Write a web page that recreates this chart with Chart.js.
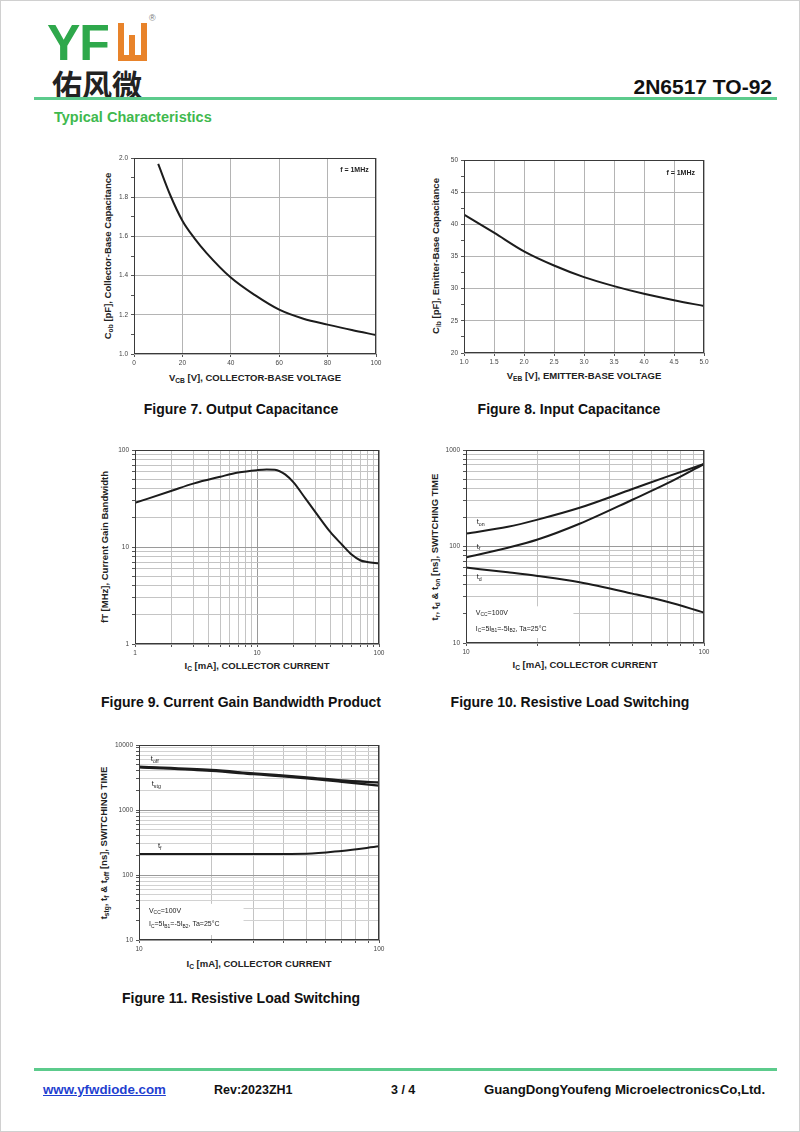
<!DOCTYPE html>
<html>
<head>
<meta charset="utf-8">
<script src="https://cdn.jsdelivr.net/npm/chart.js@4.4.1/dist/chart.umd.min.js"></script>
<style>
  html, body { margin: 0; padding: 0; background: #fff; }
  #page { position: relative; width: 798px; height: 1130px; border: 1px solid #d0d0d0; overflow: hidden;
          font-family: "Liberation Sans", Arial, sans-serif; }
  .abs { position: absolute; white-space: nowrap; }
  .cap { font-weight: bold; font-size: 14px; color: #111; transform: translateX(-50%); }
  .xt { font-weight: bold; font-size: 9.5px; color: #222; transform: translateX(-50%); }
  .yt { font-weight: bold; font-size: 9.5px; color: #222; transform: translate(-50%, -50%) rotate(-90deg); }
  sub { font-size: 70%; vertical-align: -2px; line-height: 0; }
  canvas { position: absolute; }
</style>
</head>
<body>
<div id="page">
  <!-- header -->
  <div class="abs" style="left:46px;top:13px;font:bold 50px 'Liberation Sans';color:#2ea84b;letter-spacing:-1px">YF</div>
  <div class="abs" style="left:117px;top:22px;width:17px;height:32px;border:6px solid #e8832a;border-top:none"></div>
  <div class="abs" style="left:128px;top:34px;width:6px;height:20px;background:#e8832a"></div>
  <div class="abs" style="left:148px;top:12px;font-size:9px;color:#777">®</div>
  <div class="abs" style="left:51px;top:60px;font:bold 30px 'Noto Sans CJK SC';color:#222">佑风微</div>
  <div class="abs" style="right:27px;top:74px;font-weight:bold;font-size:21px;color:#111">2N6517 TO-92</div>
  <div class="abs" style="left:33px;top:96px;width:743px;height:3px;background:#5ccb8c"></div>
  <div class="abs" style="left:53px;top:108px;font-weight:bold;font-size:14.5px;color:#3fb94e">Typical Characteristics</div>

  <!-- axis titles -->
  <div class="abs xt" style="left:254px;top:371px">V<sub>CB</sub> [V], COLLECTOR-BASE VOLTAGE</div>
  <div class="abs yt" style="left:106px;top:255px">C<sub>ob</sub> [pF], Collector-Base Capacitance</div>
  <div class="abs xt" style="left:583px;top:369px">V<sub>EB</sub> [V], EMITTER-BASE VOLTAGE</div>
  <div class="abs yt" style="left:434px;top:255px">C<sub>ib</sub> [pF], Emitter-Base Capacitance</div>
  <div class="abs xt" style="left:256px;top:659px">I<sub>C</sub> [mA], COLLECTOR CURRENT</div>
  <div class="abs yt" style="left:103px;top:546px">fT [MHz], Current Gain Bandwidth</div>
  <div class="abs xt" style="left:584px;top:658px">I<sub>C</sub> [mA], COLLECTOR CURRENT</div>
  <div class="abs yt" style="left:433px;top:546px">t<sub>r</sub>, t<sub>d</sub> &amp; t<sub>on</sub> [ns], SWITCHING TIME</div>
  <div class="abs xt" style="left:258px;top:957px">I<sub>C</sub> [mA], COLLECTOR CURRENT</div>
  <div class="abs yt" style="left:102px;top:842px">t<sub>stg</sub>, t<sub>f</sub> &amp; t<sub>off</sub> [ns], SWITCHING TIME</div>

  <!-- captions -->
  <div class="abs cap" style="left:240px;top:400px">Figure 7. Output Capacitance</div>
  <div class="abs cap" style="left:568px;top:400px">Figure 8. Input Capacitance</div>
  <div class="abs cap" style="left:240px;top:693px">Figure 9. Current Gain Bandwidth Product</div>
  <div class="abs cap" style="left:569px;top:693px">Figure 10. Resistive Load Switching</div>
  <div class="abs cap" style="left:240px;top:989px">Figure 11. Resistive Load Switching</div>

  <!-- footer -->
  <div class="abs" style="left:33px;top:1067px;width:743px;height:3px;background:#5ccb8c"></div>
  <div class="abs" style="left:42px;top:1081px;font-weight:bold;font-size:13.3px;color:#1f3fd0;text-decoration:underline">www.yfwdiode.com</div>
  <div class="abs" style="left:213px;top:1082px;font-weight:bold;font-size:12.5px;color:#111">Rev:2023ZH1</div>
  <div class="abs" style="left:390px;top:1082px;font-weight:bold;font-size:12.5px;color:#111">3 / 4</div>
  <div class="abs" style="left:483px;top:1081px;font-weight:bold;font-size:13.2px;color:#111">GuangDongYoufeng MicroelectronicsCo,Ltd.</div>
</div>

<script>
// ---- Figure 7: output capacitance ----
const fig7Vcb = [10, 15, 20, 25, 30, 40, 50, 60, 70, 80, 90, 100];
const fig7Cob = [1.97, 1.81, 1.68, 1.59, 1.515, 1.39, 1.30, 1.226, 1.18, 1.15, 1.122, 1.097];
const fig7XTicks = [0, 20, 40, 60, 80, 100];
const fig7YTicks = [1.0, 1.2, 1.4, 1.6, 1.8, 2.0];

// ---- Figure 8: input capacitance ----
const fig8Veb = [1.0, 1.5, 2.0, 2.5, 3.0, 3.5, 4.0, 4.5, 5.0];
const fig8Cib = [41.5, 38.7, 35.8, 33.6, 31.8, 30.4, 29.2, 28.2, 27.3];
const fig8XTicks = [1.0, 1.5, 2.0, 2.5, 3.0, 3.5, 4.0, 4.5, 5.0];
const fig8YTicks = [20, 25, 30, 35, 40, 45, 50];

// ---- Figure 9: fT vs Ic ----
const fig9Ic = [1, 2, 3, 5, 7, 10, 12, 14, 17, 20, 25, 30, 40, 50, 60, 70, 80, 100];
const fig9Ft = [28.5, 38, 45, 53, 58.5, 62, 63, 62.5, 56, 46, 31.5, 23, 14.2, 10.5, 8.3, 7.3, 7.0, 6.8];

// ---- Figure 10: turn-on switching ----
const fig10Ic = [10, 15, 20, 30, 50, 70, 100];
const fig10Ton = [136, 160, 190, 252, 394, 530, 716];
const fig10Tr = [77, 97, 118, 172, 305, 450, 716];
const fig10Td = [60.5, 54, 49.5, 42.7, 32.5, 26.7, 20.7];

// ---- Figure 11: turn-off switching ----
const fig11Ic = [10, 20, 30, 50, 70, 100];
const fig11Toff = [4640, 4120, 3660, 3180, 2850, 2650];
const fig11Tstg = [4550, 4000, 3560, 3080, 2720, 2370];
const fig11Tf = [210, 210, 210, 212, 235, 276];

const ML = 42, MR = 12, MT = 10, MB = 18;
const CURVE = "#1c1c1c";

const isPow10 = (v) => Math.abs(Math.log10(v) - Math.round(Math.log10(v))) < 1e-6;
const logTicks = (min, max) => {
  const out = [];
  for (let d = min; d < max; d *= 10) for (let k = 1; k < 10; k++) out.push(d * k);
  out.push(max);
  return out;
};

// draw "t_{on}" style text with subscripts
function drawRich(ctx, x, y, text, size, bold) {
  const parts = text.split(/_\{([^}]*)\}/);
  const w = bold ? "bold " : "";
  const main = `${w}${size}px "Liberation Sans", Arial`;
  const small = `${w}${size * 0.7}px "Liberation Sans", Arial`;
  let cx = x;
  parts.forEach((p, i) => {
    ctx.font = i % 2 ? small : main;
    ctx.fillText(p, cx, i % 2 ? y + size * 0.3 : y);
    cx += ctx.measureText(p).width;
  });
}

const notesPlugin = {
  id: "notes",
  beforeDatasetsDraw(chart, args, opts) {
    if (!opts.box) return;
    const { ctx, scales: { x, y } } = chart;
    const b = opts.box;
    const x0 = x.getPixelForValue(b.x0), x1 = x.getPixelForValue(b.x1);
    const y0 = y.getPixelForValue(b.y0), y1 = y.getPixelForValue(b.y1);
    ctx.save();
    ctx.fillStyle = "#fff";
    ctx.fillRect(x0 + 1, y1, x1 - x0, y0 - y1 - 1);
    ctx.restore();
  },
  afterDatasetsDraw(chart, args, opts) {
    const { ctx, chartArea: a, scales: { x, y } } = chart;
    ctx.save();
    ctx.strokeStyle = "#3a3a3a";
    ctx.lineWidth = 1;
    ctx.strokeRect(Math.round(a.left) + 0.5, Math.round(a.top) + 0.5,
                   Math.round(a.width) - 1, Math.round(a.height) - 1);
    ctx.fillStyle = "#222";
    ctx.textBaseline = "middle";
    (opts.items || []).forEach((n) => {
      let px = x.getPixelForValue(n.x);
      const py = y.getPixelForValue(n.y);
      if (n.align === "right") {
        ctx.font = `${n.bold ? "bold " : ""}${n.size}px "Liberation Sans", Arial`;
        px -= ctx.measureText(n.text.replace(/_\{|\}/g, "")).width;
      }
      drawRich(ctx, px, py, n.text, n.size, n.bold);
    });
    ctx.restore();
  },
};

function axis(pos, o) {
  const isX = pos === "bottom";
  return {
    type: o.log ? "logarithmic" : "linear",
    position: pos,
    min: o.min,
    max: o.max,
    afterBuildTicks: (s) => { s.ticks = o.ticks.map((v) => ({ value: v })); },
    afterFit: (s) => { if (isX) s.height = MB; else s.width = ML; },
    border: { display: false },
    grid: {
      drawTicks: true,
      tickLength: 3,
      color: (c) => {
        const v = c.tick ? c.tick.value : null;
        if (v === null) return "transparent";
        return o.major(v) ? o.majorColor : o.minorColor;
      },
      tickColor: "#555",
      lineWidth: 1,
    },
    ticks: {
      autoSkip: false,
      maxRotation: 0,
      padding: isX ? 2 : 3,
      color: "#444",
      font: { size: 6.5, family: "Liberation Sans" },
      callback: (v) => (o.label(v) ? o.fmt(v) : ""),
    },
  };
}

function curve(data, width) {
  return {
    data,
    borderColor: CURVE,
    borderWidth: width || 2,
    pointRadius: 0,
    fill: false,
    cubicInterpolationMode: "monotone",
  };
}

function makeChart(rect, xs, datasets, xAxis, yAxis, notes) {
  const c = document.createElement("canvas");
  const w = rect.r - rect.l + ML + MR, h = rect.b - rect.t + MT + MB;
  c.width = w; c.height = h;
  c.style.left = rect.l - ML + "px";
  c.style.top = rect.t - MT + "px";
  c.style.width = w + "px";
  c.style.height = h + "px";
  document.getElementById("page").appendChild(c);
  return new Chart(c, {
    type: "line",
    data: { datasets: datasets.map((d) => ({ ...d, data: xs.map((x, i) => ({ x, y: d.data[i] })) })) },
    options: {
      responsive: false,
      animation: false,
      devicePixelRatio: 1,
      layout: { padding: { top: MT, right: MR, left: 0, bottom: 0 } },
      plugins: { legend: { display: false }, tooltip: { enabled: false }, notes },
      scales: { x: xAxis, y: yAxis },
    },
    plugins: [notesPlugin],
  });
}

const near = (arr) => (v) => arr.some((t) => Math.abs(t - v) < 1e-6);
const minorSteps = (lo, hi, step) => {
  const out = [];
  for (let i = 0; lo + i * step <= hi + 1e-9; i++) out.push(+(lo + i * step).toFixed(4));
  return out;
};

// Figure 7
makeChart({ l: 133, t: 157, r: 375, b: 353 }, fig7Vcb, [curve(fig7Cob)],
  axis("bottom", { min: 0, max: 100, ticks: fig7XTicks, major: () => true, label: () => true,
    fmt: (v) => String(v), majorColor: "#b4b4b4", minorColor: "transparent" }),
  axis("left", { min: 1.0, max: 2.0, ticks: minorSteps(1.0, 2.0, 0.1), major: near(fig7YTicks),
    label: near(fig7YTicks), fmt: (v) => v.toFixed(1), majorColor: "#b4b4b4", minorColor: "transparent" }),
  { items: [{ x: 97, y: 1.94, text: "f = 1MHz", size: 7, bold: true, align: "right" }] });

// Figure 8
makeChart({ l: 463, t: 159, r: 703, b: 352 }, fig8Veb, [curve(fig8Cib)],
  axis("bottom", { min: 1.0, max: 5.0, ticks: fig8XTicks, major: () => true, label: () => true,
    fmt: (v) => v.toFixed(1), majorColor: "#b4b4b4", minorColor: "transparent" }),
  axis("left", { min: 20, max: 50, ticks: minorSteps(20, 50, 2.5), major: near(fig8YTicks),
    label: near(fig8YTicks), fmt: (v) => String(v), majorColor: "#b4b4b4", minorColor: "transparent" }),
  { items: [{ x: 4.85, y: 48, text: "f = 1MHz", size: 7, bold: true, align: "right" }] });

// Figure 9
makeChart({ l: 134, t: 449, r: 378, b: 643 }, fig9Ic, [curve(fig9Ft)],
  axis("bottom", { log: true, min: 1, max: 100, ticks: logTicks(1, 100), major: isPow10, label: isPow10,
    fmt: (v) => String(v), majorColor: "#9a9a9a", minorColor: "#c4c4c4" }),
  axis("left", { log: true, min: 1, max: 100, ticks: logTicks(1, 100), major: isPow10, label: isPow10,
    fmt: (v) => String(v), majorColor: "#9a9a9a", minorColor: "#c4c4c4" }),
  {});

// Figure 10
makeChart({ l: 465, t: 449, r: 703, b: 642 }, fig10Ic,
  [curve(fig10Ton), curve(fig10Tr), curve(fig10Td)],
  axis("bottom", { log: true, min: 10, max: 100, ticks: logTicks(10, 100), major: isPow10, label: isPow10,
    fmt: (v) => String(v), majorColor: "#9a9a9a", minorColor: "#c4c4c4" }),
  axis("left", { log: true, min: 10, max: 1000, ticks: logTicks(10, 1000), major: isPow10, label: isPow10,
    fmt: (v) => String(v), majorColor: "#9a9a9a", minorColor: "#c4c4c4" }),
  {
    box: { x0: 10, x1: 28, y0: 11, y1: 24 },
    items: [
      { x: 11.1, y: 178, text: "t_{on}", size: 7.5 },
      { x: 11.1, y: 100, text: "t_{r}", size: 7.5 },
      { x: 11.1, y: 48, text: "t_{d}", size: 7.5 },
      { x: 11.0, y: 20.5, text: "V_{CC}=100V", size: 7 },
      { x: 11.0, y: 14, text: "I_{C}=5I_{B1}=-5I_{B2}, Ta=25°C", size: 7 },
    ],
  });

// Figure 11
makeChart({ l: 138, t: 744, r: 378, b: 939 }, fig11Ic,
  [curve(fig11Toff, 2.4), curve(fig11Tstg, 2.4), curve(fig11Tf)],
  axis("bottom", { log: true, min: 10, max: 100, ticks: logTicks(10, 100), major: isPow10, label: isPow10,
    fmt: (v) => String(v), majorColor: "#9a9a9a", minorColor: "#c4c4c4" }),
  axis("left", { log: true, min: 10, max: 10000, ticks: logTicks(10, 10000), major: isPow10, label: isPow10,
    fmt: (v) => String(v), majorColor: "#9a9a9a", minorColor: "#d2d2d2" }),
  {
    box: { x0: 10, x1: 27, y0: 11.5, y1: 36 },
    items: [
      { x: 11.2, y: 6100, text: "t_{off}", size: 7.5 },
      { x: 11.3, y: 2500, text: "t_{stg}", size: 7.5 },
      { x: 12, y: 280, text: "t_{f}", size: 7.5 },
      { x: 11.0, y: 28, text: "V_{CC}=100V", size: 7 },
      { x: 11.0, y: 17.5, text: "I_{C}=5I_{B1}=-5I_{B2}, Ta=25°C", size: 7 },
    ],
  });
</script>
</body>
</html>
